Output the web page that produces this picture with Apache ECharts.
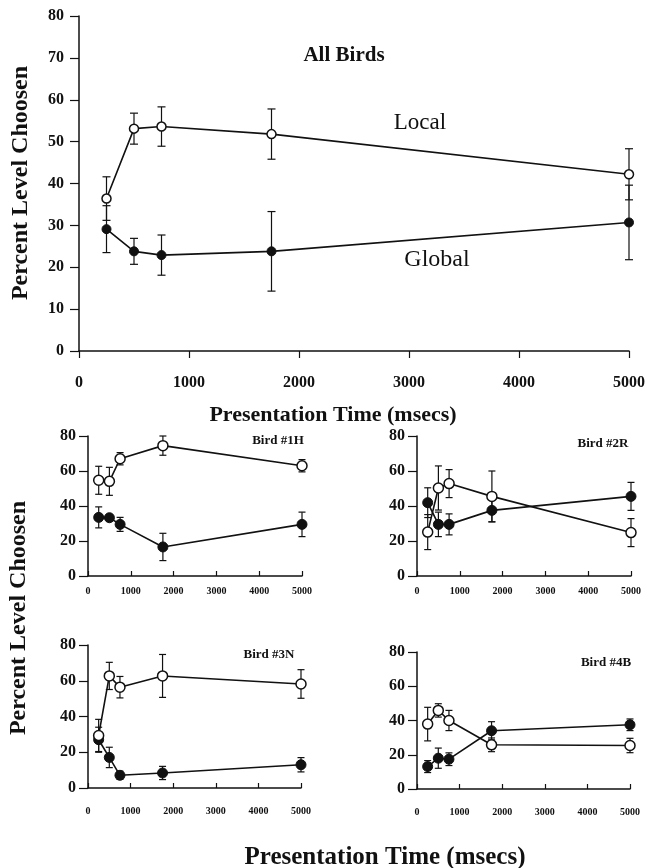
<!DOCTYPE html>
<html>
<head>
<meta charset="utf-8">
<script src="https://cdn.jsdelivr.net/npm/echarts@6/dist/echarts.min.js"></script>
<style>
  html, body { margin: 0; padding: 0; background: #fff; }
  #chart { width: 648px; height: 868px; }
</style>
</head>
<body>
<div id="chart"></div>
<script>
// presentation times (msecs)
const times = [250, 500, 750, 1750, 5000];

// All Birds
const allLocal = [36.4, 53.1, 53.6, 51.8, 42.2];
const allLocalErr = [5.2, 3.7, 4.7, 6.0, 6.1];
const allGlobal = [29.1, 23.8, 22.9, 23.8, 30.7];
const allGlobalErr = [5.6, 3.1, 4.8, 9.5, 8.9];

// Bird #1H
const b1Local = [54.7, 54.1, 67.0, 74.5, 63.0];
const b1LocalErr = [8.0, 8.0, 3.5, 5.5, 3.5];
const b1Global = [33.5, 33.3, 29.5, 16.6, 29.5];
const b1GlobalErr = [6.0, 1.0, 4.0, 7.8, 7.0];

// Bird #2R
const b2Local = [25.1, 50.3, 52.8, 45.5, 24.8];
const b2LocalErr = [10.0, 12.6, 8.0, 14.5, 8.0];
const b2Global = [41.9, 29.5, 29.5, 37.5, 45.5];
const b2GlobalErr = [8.5, 7.0, 6.0, 6.6, 8.0];

// Bird #3N
const b3Local = [29.4, 62.7, 56.4, 62.7, 58.2];
const b3LocalErr = [9.0, 7.6, 6.0, 12.0, 8.0];
const b3Global = [27.0, 17.1, 7.1, 8.4, 13.0];
const b3GlobalErr = [7.0, 5.7, 2.3, 3.7, 4.0];

// Bird #4B
const b4Local = [37.9, 45.9, 40.0, 25.8, 25.4];
const b4LocalErr = [9.8, 3.9, 5.9, 4.0, 4.2];
const b4Global = [13.1, 18.0, 17.4, 34.0, 37.5];
const b4GlobalErr = [3.5, 5.9, 3.7, 5.3, 3.4];

const panels = [
  { title: 'All Birds', local: allLocal, localErr: allLocalErr, global: allGlobal, globalErr: allGlobalErr },
  { title: 'Bird #1H', local: b1Local, localErr: b1LocalErr, global: b1Global, globalErr: b1GlobalErr },
  { title: 'Bird #2R', local: b2Local, localErr: b2LocalErr, global: b2Global, globalErr: b2GlobalErr },
  { title: 'Bird #3N', local: b3Local, localErr: b3LocalErr, global: b3Global, globalErr: b3GlobalErr },
  { title: 'Bird #4B', local: b4Local, localErr: b4LocalErr, global: b4Global, globalErr: b4GlobalErr }
];

// plot boxes (pixels) and x label gap
const grids = [
  { left: 79, right: 18, top: 16, bottom: 517 },
  { left: 88, right: 346, top: 436, bottom: 292 },
  { left: 417, right: 17, top: 436, bottom: 292 },
  { left: 88, right: 347, top: 645, bottom: 80 },
  { left: 417, right: 18, top: 652, bottom: 79 }
];
const xLabelGap = [24, 10, 10, 18, 18];

const FONT = '"Liberation Serif", "DejaVu Serif", serif';
const INK = '#111';

function errorSeries(idx, means, errs, cap) {
  return {
    type: 'custom',
    xAxisIndex: idx,
    yAxisIndex: idx,
    z: 1,
    silent: true,
    data: times.map((t, k) => [t, means[k] - errs[k], means[k] + errs[k]]),
    encode: { x: 0, y: [1, 2] },
    renderItem: function (params, api) {
      const lo = api.coord([api.value(0), api.value(1)]);
      const hi = api.coord([api.value(0), api.value(2)]);
      const style = { stroke: INK, lineWidth: 1.2 };
      return {
        type: 'group',
        children: [
          { type: 'line', shape: { x1: lo[0], y1: lo[1], x2: hi[0], y2: hi[1] }, style: style },
          { type: 'line', shape: { x1: lo[0] - cap, y1: lo[1], x2: lo[0] + cap, y2: lo[1] }, style: style },
          { type: 'line', shape: { x1: hi[0] - cap, y1: hi[1], x2: hi[0] + cap, y2: hi[1] }, style: style }
        ]
      };
    }
  };
}

function lineSeries(idx, vals, filled, size) {
  return {
    type: 'line',
    xAxisIndex: idx,
    yAxisIndex: idx,
    z: 3,
    silent: true,
    data: times.map((t, k) => [t, vals[k]]),
    symbol: 'circle',
    symbolSize: size,
    itemStyle: filled
      ? { color: INK, borderColor: INK, borderWidth: 1 }
      : { color: '#fff', borderColor: INK, borderWidth: 1.5 },
    lineStyle: { color: INK, width: 1.6 }
  };
}

const xAxes = [], yAxes = [], series = [];
panels.forEach((p, i) => {
  const big = i === 0;
  xAxes.push({
    gridIndex: i,
    type: 'value',
    min: 0, max: 5000, interval: 1000,
    axisLine: { show: true, onZero: false, lineStyle: { color: INK, width: 1.5 } },
    axisTick: { show: true, inside: !big, length: big ? 7 : 5, lineStyle: { color: INK, width: 1.2 } },
    splitLine: { show: false },
    axisLabel: {
      color: INK, fontFamily: FONT, fontWeight: 'bold',
      fontSize: big ? 16 : 10, margin: xLabelGap[i],
      formatter: v => String(v)
    }
  });
  yAxes.push({
    gridIndex: i,
    type: 'value',
    min: 0, max: 80, interval: big ? 10 : 20,
    axisLine: { show: true, lineStyle: { color: INK, width: 1.5 } },
    axisTick: { show: true, length: 9, lineStyle: { color: INK, width: 1.2 } },
    splitLine: { show: false },
    axisLabel: {
      color: INK, fontFamily: FONT, fontWeight: 'bold',
      fontSize: big ? 16 : 16, margin: big ? 15 : 12
    }
  });
  const cap = big ? 4 : 3.5;
  const size = big ? 9 : 10;
  series.push(errorSeries(i, p.local, p.localErr, cap));
  series.push(errorSeries(i, p.global, p.globalErr, cap));
  series.push(lineSeries(i, p.global, true, size));
  series.push(lineSeries(i, p.local, false, size));
});

function txt(x, y, text, size, weight, rot) {
  return {
    type: 'text',
    x: x, y: y,
    rotation: rot || 0,
    style: {
      text: text, fill: INK, font: (weight || 'normal') + ' ' + size + 'px ' + FONT,
      textAlign: 'center', textVerticalAlign: 'middle'
    }
  };
}

const graphics = [
  txt(21, 183, 'Percent Level Choosen', 24, 'bold', Math.PI / 2),
  txt(19, 618, 'Percent Level Choosen', 24, 'bold', Math.PI / 2),
  txt(333, 415, 'Presentation Time (msecs)', 22, 'bold'),
  txt(385, 858, 'Presentation Time (msecs)', 25, 'bold'),
  txt(344, 56, panels[0].title, 21, 'bold'),
  txt(420, 123, 'Local', 23, 'normal'),
  txt(437, 260, 'Global', 24, 'normal'),
  txt(278, 441, panels[1].title, 13, 'bold'),
  txt(603, 444, panels[2].title, 13, 'bold'),
  txt(269, 655, panels[3].title, 13, 'bold'),
  txt(606, 663, panels[4].title, 13, 'bold')
];

const chart = echarts.init(document.getElementById('chart'));
chart.setOption({
  animation: false,
  backgroundColor: '#fff',
  grid: grids.map(g => Object.assign({ containLabel: false }, g)),
  xAxis: xAxes,
  yAxis: yAxes,
  series: series,
  graphic: graphics
});
</script>
</body>
</html>
